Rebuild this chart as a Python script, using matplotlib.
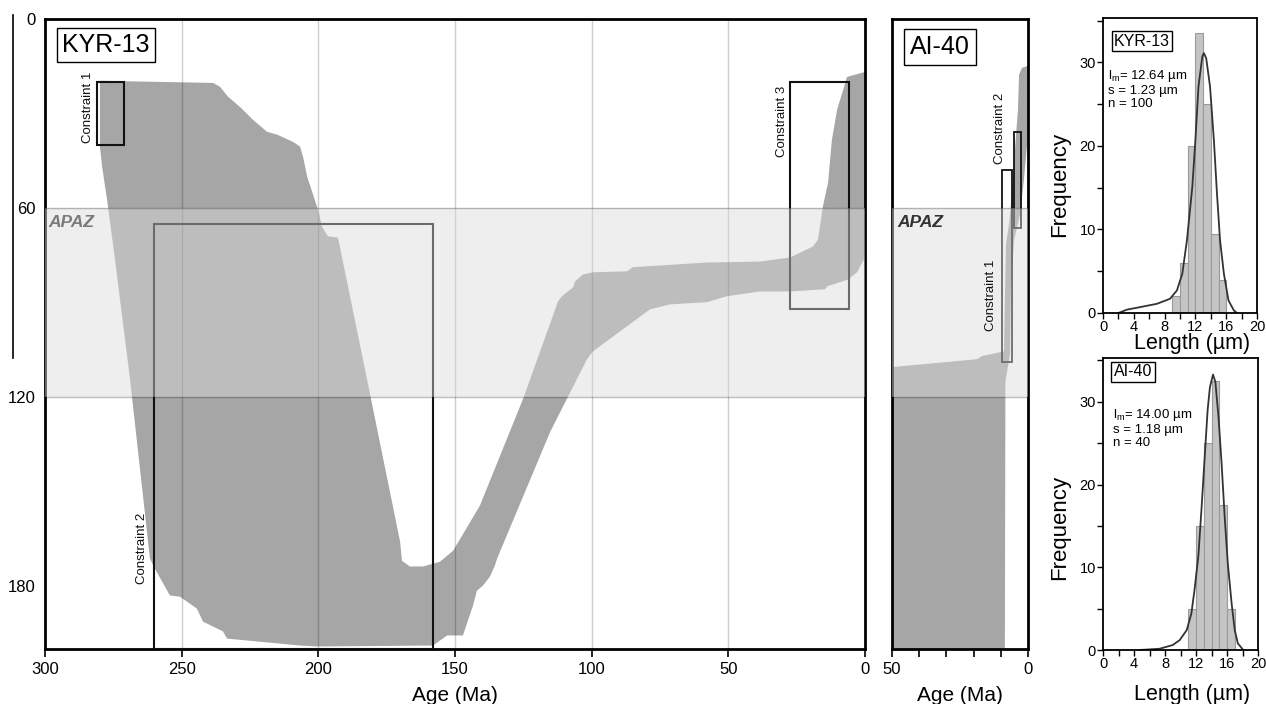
import matplotlib
matplotlib.use("Agg")
import matplotlib.pyplot as plt
from matplotlib.patches import Rectangle
from matplotlib.lines import Line2D
from matplotlib.ticker import MultipleLocator

plt.rcParams['font.family'] = ['Liberation Sans', 'DejaVu Sans']
plt.rcParams['mathtext.fontset'] = 'custom'
plt.rcParams['mathtext.rm'] = 'Liberation Sans'
plt.rcParams['mathtext.it'] = 'Liberation Sans:italic'

# KYR-13 t-T envelope (age in Ma, temperature)
kyr_age = [279.9, 238.5, 236.0, 233.0, 228.7, 223.9, 218.8, 215.1, 209.3, 206.7,
           205.6, 204.1, 200.5, 200.1, 198.7, 196.5, 192.8, 182.2, 170.1, 169.4,
           166.5, 161.7, 155.5, 150.7, 147.4, 140.9, 125.1, 112.3, 110.9, 106.8,
           106.1, 103.2, 99.5, 87.1, 84.9, 79.8, 57.8, 38.4, 27.4, 19.0,
           17.2, 15.4, 13.5, 12.1, 10.2, 8.0, 6.6, 0.0, 0.0, 2.9,
           6.2, 13.9, 14.6, 27.4, 38.4, 50.5, 57.8, 71.3, 78.7, 99.5,
           101.7, 115.2, 134.6, 135.4, 137.2, 139.8, 142.0, 143.4, 147.1, 152.9,
           158.0, 200.5, 206.7, 233.4, 234.9, 242.2, 244.4, 250.6, 254.3, 259.8,
           261.6, 268.9, 274.4, 277.3, 279.1, 279.9]
kyr_temp = [19.6, 20.3, 21.5, 24.7, 27.9, 32.0, 35.8, 36.7, 39.0, 40.5,
            43.7, 50.0, 59.5, 60.5, 65.9, 69.0, 69.4, 114.3, 165.9, 172.0,
            173.8, 173.8, 172.3, 168.8, 164.0, 154.5, 120.6, 89.6, 88.0, 85.2,
            83.3, 81.1, 80.4, 80.1, 78.8, 78.5, 77.3, 77.0, 75.7, 72.2,
            70.0, 59.5, 51.9, 38.3, 28.8, 22.5, 18.4, 16.8, 75.7, 80.4,
            82.7, 84.9, 85.8, 86.5, 86.5, 88.0, 89.9, 90.6, 92.2, 105.5,
            108.0, 131.1, 171.3, 173.5, 177.0, 179.9, 181.5, 186.2, 195.7, 195.7,
            198.9, 199.2, 198.9, 196.7, 194.4, 191.3, 187.2, 183.4, 183.0, 174.5,
            171.3, 114.3, 76.3, 57.3, 46.9, 40.5]

# AI-40 t-T envelope
ai_age = [50, 50, 18.75, 16.9, 10.3, 8.8, 8.5, 8.1, 7.0, 5.9, 4.8, 3.7, 3.3, 2.2,
          0, 0, 1.5, 2.9, 5.1, 6.3, 6.6, 8.3, 8.5]
ai_temp = [200, 110.5, 108.0, 107.0, 105.8, 105.5, 89.0, 71.6, 65.2, 55.7, 41.5,
           28.8, 17.7, 15.5, 14.9, 36.7, 51.0, 62.1, 70.0, 85.8, 106.4, 115, 200]

# constraint boxes: (age_min, age_max, temp_min, temp_max)
kyr_constraints = [(271, 281, 20, 40), (158, 260, 65, 200), (6, 27.5, 20, 92)]
ai_constraints = [(5.9, 9.6, 48, 109), (2.6, 5.2, 36, 66.5)]

apaz = (60, 120)

# track length histograms (bin left edge, frequency)
kyr_bins = [9, 10, 11, 12, 13, 14, 15]
kyr_freq = [2, 6, 20, 33.5, 25, 9.5, 4]
kyr_curve_x = [2.0, 3.1, 4.8, 7.0, 8.7, 9.6, 10.3, 10.9, 11.6, 12.0, 12.4, 12.9, 13.1,
               13.4, 13.9, 14.4, 14.8, 15.2, 15.7, 16.3, 17.0, 17.4]
kyr_curve_y = [0, 0.4, 0.7, 1.1, 1.7, 2.7, 4.7, 8.7, 15.1, 20.7, 27.1, 30.7, 31.1,
               30.5, 27.1, 20.7, 14.3, 8.7, 4.7, 1.5, 0.3, 0]

ai_bins = [11, 12, 13, 14, 15, 16]
ai_freq = [5, 15, 25, 32.5, 17.5, 5]
ai_curve_x = [4.7, 7.3, 9.0, 9.9, 10.8, 11.4, 11.8, 12.3, 12.7, 13.1, 13.5, 13.8, 14.2,
              14.5, 14.9, 15.3, 15.7, 16.1, 16.6, 17.0, 17.4, 18.1]
ai_curve_y = [0, 0.15, 0.6, 1.2, 2.4, 4.4, 7.2, 11.3, 16.9, 23.0, 29.0, 31.8, 33.3,
              32.4, 28.2, 22.6, 16.1, 10.5, 5.6, 2.4, 0.8, 0]

W, H = 1266, 704
fig = plt.figure(figsize=(W / 100, H / 100), dpi=100)


def box(l, t, r, b):
    return [l / W, 1 - b / H, (r - l) / W, (b - t) / H]


def ftext(x, y, s, **kw):
    fig.text(x / W, 1 - y / H, s, **kw)


label_box = dict(boxstyle='square,pad=0.2', fc='white', ec='k', lw=1)

# ---- KYR-13 t-T panel ----
ax = fig.add_axes(box(45, 19, 865, 649))
ax.fill(kyr_age, kyr_temp, color='#a6a6a6', lw=0, zorder=1)
for a in [250, 200, 150, 100, 50]:
    ax.axvline(a, color='k', alpha=0.2, lw=1, zorder=2)
for a0, a1, t0, t1 in kyr_constraints:
    ax.add_patch(Rectangle((a0, t0), a1 - a0, t1 - t0, fill=False, ec='#111111',
                           lw=1.5, zorder=3))
ax.axhspan(*apaz, color='#dbdbdb', alpha=0.45, lw=0, zorder=4)
for t in apaz:
    ax.axhline(t, color='k', alpha=0.25, lw=1, zorder=4.5)
ax.set_xlim(300, 0)
ax.set_ylim(200, 0)
ax.set_xticks([300, 250, 200, 150, 100, 50, 0])
ax.set_yticks([0, 60, 120, 180])
ax.tick_params(axis='x', direction='out', length=6, width=1.2, labelsize=12, pad=3)
ax.tick_params(axis='y', length=0, labelsize=12, pad=7)
for sp in ax.spines.values():
    sp.set_linewidth(2)

# ---- AI-40 t-T panel ----
ax2 = fig.add_axes(box(892, 19, 1028, 649))
ax2.fill(ai_age, ai_temp, color='#a6a6a6', lw=0, zorder=1)
for a0, a1, t0, t1 in ai_constraints:
    ax2.add_patch(Rectangle((a0, t0), a1 - a0, t1 - t0, fill=False, ec='#111111',
                            lw=1.3, zorder=3))
ax2.axhspan(*apaz, color='#dbdbdb', alpha=0.45, lw=0, zorder=4)
for t in apaz:
    ax2.axhline(t, color='k', alpha=0.25, lw=1, zorder=4.5)
ax2.set_xlim(50, 0)
ax2.set_ylim(200, 0)
ax2.set_xticks([50, 0])
ax2.xaxis.set_minor_locator(MultipleLocator(10))
ax2.set_yticks([])
ax2.tick_params(axis='x', which='both', direction='out', length=6, width=1.2,
                labelsize=12, pad=3)
for sp in ax2.spines.values():
    sp.set_linewidth(2)

ftext(455, 701, 'Age (Ma)', ha='center', va='baseline', fontsize=15)
ftext(960, 701, 'Age (Ma)', ha='center', va='baseline', fontsize=15)

ftext(106, 45, 'KYR-13', ha='center', va='center', fontsize=18, bbox=label_box)
ftext(940, 47, 'AI-40', ha='center', va='center', fontsize=18,
      bbox=dict(label_box, boxstyle='square,pad=0.25'))
ftext(48, 222, 'APAZ', ha='left', va='center', fontsize=12.5, fontweight='bold',
      fontstyle='italic', color='#7a7a7a')
ftext(897, 222, 'APAZ', ha='left', va='center', fontsize=12.5, fontweight='bold',
      fontstyle='italic', color='#333333')

for x, y, s in [(88, 107, 'Constraint 1'), (142, 548, 'Constraint 2'),
                (782, 121, 'Constraint 3'), (1000, 128, 'Constraint 2'),
                (991, 295, 'Constraint 1')]:
    ftext(x, y, s, ha='center', va='center', rotation=90, fontsize=9.5, color='#111111')

# ---- track length histograms ----
hist_sets = [
    (box(1103, 18, 1257, 313), kyr_bins, kyr_freq, kyr_curve_x, kyr_curve_y),
    (box(1103, 358, 1258, 650), ai_bins, ai_freq, ai_curve_x, ai_curve_y),
]
for rect, bins, freq, cx, cy in hist_sets:
    hx = fig.add_axes(rect)
    hx.bar(bins, freq, width=1, align='edge', color='#c4c4c4', edgecolor='#9a9a9a',
           lw=0.8, zorder=1)
    hx.plot(cx, cy, color='#333333', lw=1.3, zorder=2)
    hx.set_xlim(0, 20)
    hx.set_ylim(0, 35.3)
    hx.set_xticks([0, 4, 8, 12, 16, 20])
    hx.xaxis.set_minor_locator(MultipleLocator(2))
    hx.set_yticks([0, 10, 20, 30])
    hx.yaxis.set_minor_locator(MultipleLocator(5))
    hx.tick_params(which='both', direction='out', length=4, width=1, labelsize=10.5, pad=1)
    for sp in hx.spines.values():
        sp.set_linewidth(1.3)

ftext(1060, 184, 'Frequency', ha='center', va='center', rotation=90, fontsize=16)
ftext(1060, 527, 'Frequency', ha='center', va='center', rotation=90, fontsize=16)
ftext(1192, 349, 'Length (µm)', ha='center', va='baseline', fontsize=15.5)
ftext(1192, 700, 'Length (µm)', ha='center', va='baseline', fontsize=15.5)

ftext(1142, 41, 'KYR-13', ha='center', va='center', fontsize=11.5,
      bbox=dict(label_box, boxstyle='square,pad=0.15'))
ftext(1133, 372, 'AI-40', ha='center', va='center', fontsize=11.5,
      bbox=dict(label_box, boxstyle='square,pad=0.15'))

for x, ys, lines in [(1108, (76, 91, 104), (r'l$_{\rm m}$= 12.64 µm', 's = 1.23 µm', 'n = 100')),
                     (1113, (415, 430, 443), (r'l$_{\rm m}$= 14.00 µm', 's = 1.18 µm', 'n = 40'))]:
    for y, s in zip(ys, lines):
        ftext(x, y, s, ha='left', va='center', fontsize=9.5)

# stray frame line at the far left of the original figure
fig.add_artist(Line2D([13 / W, 13 / W], [1 - 15 / H, 1 - 358 / H], color='k', lw=1.2))

fig.savefig('out.png', dpi=100)
